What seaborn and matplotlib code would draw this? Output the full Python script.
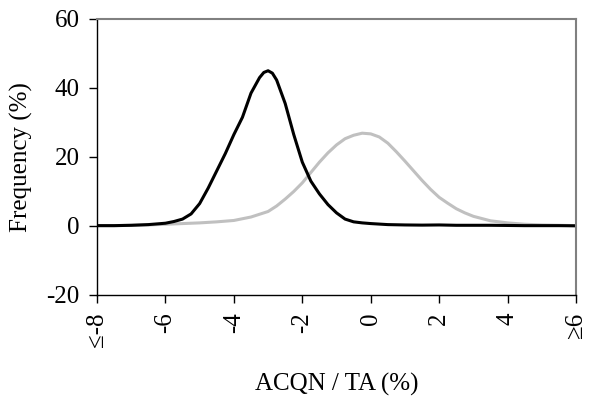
import numpy as np
import pandas as pd
import matplotlib
matplotlib.use("Agg")
import matplotlib.pyplot as plt
import seaborn as sns

# values (frequency in %)
black_x = [-8, -7.5, -7, -6.5, -6, -5.75, -5.5, -5.25, -5, -4.75, -4.5, -4.25, -4,
           -3.75, -3.5, -3.25, -3.125, -3, -2.875, -2.75, -2.5, -2.25, -2, -1.75, -1.5,
           -1.25, -1, -0.75, -0.5, -0.25, 0, 0.5, 1, 1.5, 2, 2.5, 3, 3.5, 4, 4.5, 5, 5.5, 6]
black_y = [0.1, 0.1, 0.2, 0.4, 0.8, 1.3, 2.0, 3.5, 6.5, 11, 16, 21, 26.5,
           31.5, 38.5, 43, 44.5, 45, 44.3, 42.3, 35.5, 26.5, 18.5, 13, 9.3,
           6.2, 3.8, 2.0, 1.2, 0.9, 0.7, 0.4, 0.3, 0.25, 0.3, 0.2, 0.2, 0.2, 0.15, 0.1, 0.1, 0.1, 0.05]

gray_x = [-8, -7.5, -7, -6.5, -6, -5.5, -5, -4.5, -4, -3.5, -3, -2.75, -2.5, -2.25,
          -2, -1.75, -1.5, -1.25, -1, -0.75, -0.5, -0.25, 0, 0.25, 0.5, 0.75, 1,
          1.25, 1.5, 1.75, 2, 2.25, 2.5, 2.75, 3, 3.5, 4, 4.5, 5, 5.5, 6]
gray_y = [0.1, 0.1, 0.2, 0.3, 0.5, 0.7, 0.9, 1.2, 1.6, 2.6, 4.2, 5.8, 7.8, 10,
          12.5, 15.5, 18.5, 21.2, 23.5, 25.3, 26.3, 26.9, 26.7, 25.8, 24, 21.5, 18.8,
          16, 13.2, 10.6, 8.3, 6.6, 5, 3.8, 2.8, 1.5, 0.9, 0.5, 0.3, 0.2, 0.1]

x_ticks = [-8, -6, -4, -2, 0, 2, 4, 6]
x_tick_labels = ["\u2264-8", "-6", "-4", "-2", "0", "2", "4", "\u22656"]
y_ticks = [-20, 0, 20, 40, 60]

df = pd.concat([
    pd.DataFrame({"x": black_x, "y": black_y, "series": "black"}),
    pd.DataFrame({"x": gray_x, "y": gray_y, "series": "gray"}),
])

sns.set_style("white")
plt.rcParams["font.family"] = ["Liberation Serif", "DejaVu Serif"]
plt.rcParams["text.color"] = "black"
plt.rcParams["axes.labelcolor"] = "black"

fig = plt.figure(figsize=(5.89, 3.99), dpi=100)
ax = fig.add_axes([0.1647, 0.2607, 0.8133, 0.6917])

sns.lineplot(data=df, x="x", y="y", hue="series",
             palette={"black": "#000000", "gray": "#c0c0c0"},
             hue_order=["gray", "black"], linewidth=2.2,
             legend=False, ax=ax)

ax.set_xlim(-8, 6)
ax.set_ylim(-20, 60)
ax.set_xticks(x_ticks)
ax.set_xticklabels(x_tick_labels, rotation=90, fontsize=18)
ax.set_yticks(y_ticks)
ax.set_yticklabels([str(v) for v in y_ticks], fontsize=18)
ax.tick_params(axis="both", direction="out", length=5.5, width=1, color="#000000",
               labelcolor="#000000", left=True, bottom=True)
ax.tick_params(axis="y", pad=7)
ax.tick_params(axis="x", pad=7)

for side in ["left", "bottom"]:
    ax.spines[side].set_color("#000000")
    ax.spines[side].set_linewidth(1.0)
for side in ["top", "right"]:
    ax.spines[side].set_color("#808080")
    ax.spines[side].set_linewidth(1.5)

ax.set_xlabel("ACQN / TA (%)", fontsize=18, va="baseline", color="black")
ax.xaxis.set_label_coords(0.5, -0.347)
ax.set_ylabel("Frequency (%)", fontsize=18, color="black")
ax.yaxis.set_label_coords(-0.1336, 0.5)

fig.savefig("out.png", dpi=100)
